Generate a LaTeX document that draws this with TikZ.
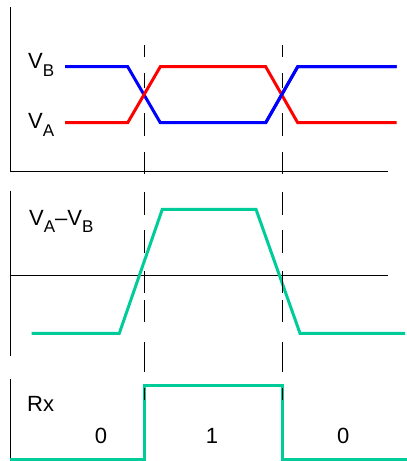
\documentclass[tikz,border=0pt]{standalone}
\usepackage{fontspec}
\setmainfont{Liberation Sans}
\definecolor{sigA}{RGB}{255,0,0}
\definecolor{sigB}{RGB}{0,0,255}
\definecolor{sigD}{RGB}{0,204,153}
\newcommand{\subtxt}[1]{\raisebox{-0.36em}{\fontsize{17}{17}\selectfont #1}}
\begin{document}
\begin{tikzpicture}[x=1pt,y=-1pt,
  axis/.style={line width=1pt,black},
  dashseg/.style={line width=1pt,black},
  sig/.style={line width=3pt,line join=miter},
  lbl/.style={inner sep=0pt,font=\fontsize{22}{22}\selectfont}]
\useasboundingbox (0,0) rectangle (407,461);
% top panel signals
\draw[sig,sigB] (65,66.7) -- (127.7,66.7) -- (160.3,122.7) -- (265.7,122.7) -- (297.7,66.7) -- (396.7,66.7);
\draw[sig,sigA] (65,122.7) -- (127.7,122.7) -- (160.3,66.7) -- (265.7,66.7) -- (297.7,122.7) -- (396.7,122.7);
\draw[sig,sigB] (265.7,122.7) -- (297.7,66.7) -- (396.7,66.7);
% axes
\draw[axis] (10,7.3) -- (10,171.5) -- (388,171.5);
\draw[axis] (10,190.7) -- (10,355.7);
\draw[axis] (10,275.7) -- (388,275.7);
\draw[axis] (10,379.3) -- (10,460);
% middle signal
\draw[sig,sigD] (31.7,333.3) -- (119.3,333.3) -- (162.3,209.3) -- (256,209.3) -- (300,333.3) -- (405,333.3);
% bottom signal
\draw[sig,sigD] (10,459.5) -- (144.3,459.5) -- (144.3,385) -- (282.7,385) -- (282.7,459.5) -- (407,459.5);
% dashed guides
\foreach \a/\b in {45/57,73/88,113/136,152/174,192/215,230/253,271/293,300/322,342/372,388/400}{
  \draw[dashseg] (144.3,\a) -- (144.3,\b);
  \draw[dashseg] (282.7,\a) -- (282.7,\b);
}
% labels
\node[lbl,anchor=base west] (vb) at (28,68.3) {V\subtxt{B}};
\node[lbl,anchor=base west] (va) at (28,128.3) {V\subtxt{A}};
\node[lbl,anchor=base west] (vd) at (29,225) {V\subtxt{A}–V\subtxt{B}};
\node[lbl,anchor=base west] (rx) at (27,411) {Rx};
\node[lbl,anchor=base] (b0) at (101,443.3) {0};
\node[lbl,anchor=base] (b1) at (212,443.3) {1};
\node[lbl,anchor=base] (b2) at (343.3,443.3) {0};
\end{tikzpicture}
\end{document}
